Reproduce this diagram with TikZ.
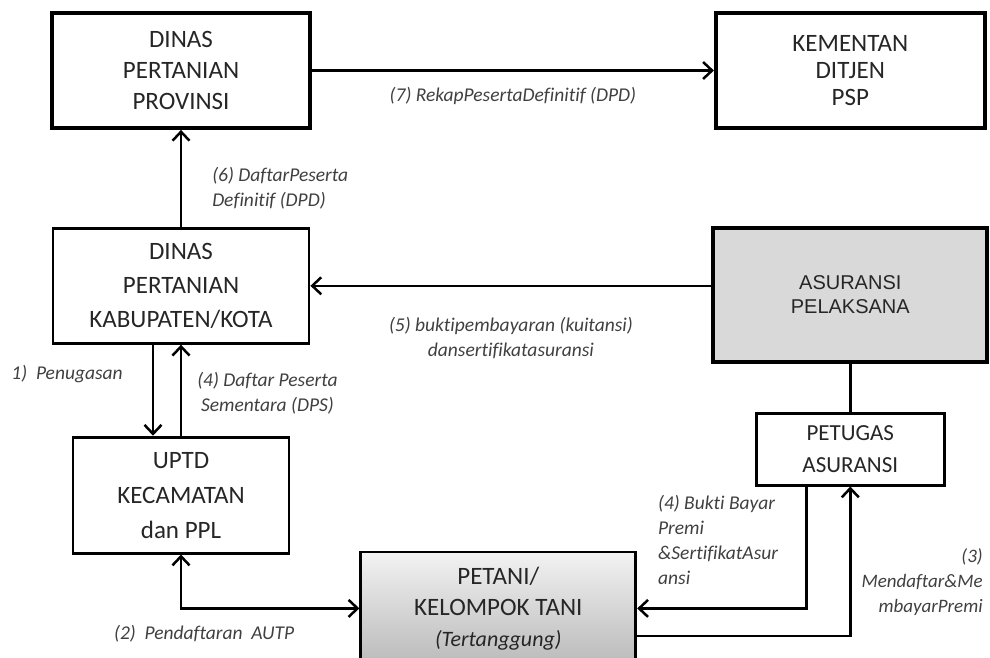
\documentclass[tikz,border=0pt]{standalone}
\usepackage{fontspec}
\setmainfont{Carlito}[Ligatures=NoCommon]
\newfontfamily\arialfont{Liberation Sans}
\usetikzlibrary{arrows.meta}
\usetikzlibrary{positioning}

\tikzset{
  box/.style={draw, rectangle, line width=2.8pt, align=center, inner sep=0pt,
    text=black!85, font=\fontsize{25}{31}\selectfont},
  bigbox/.style={box, line width=3.8pt},
  lbl/.style={inner sep=0pt, text=black!75, font=\fontsize{19.5}{25}\selectfont\itshape},
  conn/.style={line width=2.5pt, >={Straight Barb[length=9pt,width=17pt]}}
}

\begin{document}
\begin{tikzpicture}[x=1pt, y=1pt, node distance=96pt]
  \useasboundingbox (0,0) rectangle (990,-658);

  % top row
  \node[bigbox, minimum width=258pt, minimum height=115pt] (prov) at (181,-70.5) {DINAS\\PERTANIAN\\PROVINSI};
  \node[bigbox, minimum width=269pt, minimum height=115pt, font=\fontsize{25}{27}\selectfont] (kem) [right=402pt of prov] {KEMENTAN\\DITJEN\\PSP};

  % left column
  \node[box, minimum width=256pt, minimum height=115pt, font=\fontsize{25}{34}\selectfont] (kab) [below=97pt of prov] {DINAS\\PERTANIAN\\KABUPATEN/KOTA};
  \node[box, minimum width=216pt, minimum height=116pt, font=\fontsize{25}{35}\selectfont] (uptd) [below=91pt of kab] {UPTD\\KECAMATAN\\dan PPL};

  % right column
  \node[bigbox, minimum width=274pt, minimum height=134pt, fill=black!15, font=\arialfont\fontsize{20}{24}\selectfont] (asr) [below=of kem] {ASURANSI\\PELAKSANA};
  \node[box, minimum width=188pt, minimum height=72pt, font=\fontsize{23}{32}\selectfont] (ptg) [below=48pt of asr] {PETUGAS\\ASURANSI};

  % farmers
  \node[box, minimum width=275pt, minimum height=113pt, top color=black!5, bottom color=black!27] (tani) [below right=-4pt and 69pt of uptd.south east] {PETANI/\\KELOMPOK TANI\\{\fontsize{22}{30}\selectfont\itshape (Tertanggung)}};

  % connectors
  \draw[conn, ->] (prov) -- node[lbl, below=16pt] {(7) RekapPesertaDefinitif (DPD)} (kem);
  \draw[conn, ->] (kab) -- node[lbl, pos=0.4, right=30pt, align=left] {(6) DaftarPeserta\\Definitif (DPD)} (prov);
  \draw[conn, ->] (asr.west |- kab) -- node[lbl, below=30pt, align=center] {(5) buktipembayaran (kuitansi)\\dansertifikatasuransi} (kab);
  \draw[conn] (asr) -- (ptg);

  \draw[conn, ->] ([xshift=-28pt]kab.south) -- node[lbl, pos=0.32, left=29pt] {1)\ \ Penugasan} ([xshift=-28pt]uptd.north);
  \draw[conn, ->] (uptd) -- node[lbl, pos=0.47, right=15pt, align=center] {(4) Daftar Peserta\\Sementara (DPS)} (kab);
  \draw[conn, <->] (uptd.south) |- node[lbl, pos=0.565, below=16pt] {(2)\ \ Pendaftaran\ \ AUTP} (tani.west);

  \draw[conn, ->] ([xshift=-44pt]ptg.south) |- node[lbl, pos=0.218, left=27pt, align=left] {(4) Bukti Bayar\\Premi\\\&SertifikatAsur\\ansi} (tani.east);
  \draw[conn, ->] ([yshift=-27.5pt]tani.east) -| node[lbl, pos=0.68, right=10pt, align=right, font=\fontsize{19}{25}\selectfont\itshape] {(3)\\Mendaftar\&Me\\mbayarPremi} (ptg.south);
\end{tikzpicture}
\end{document}
